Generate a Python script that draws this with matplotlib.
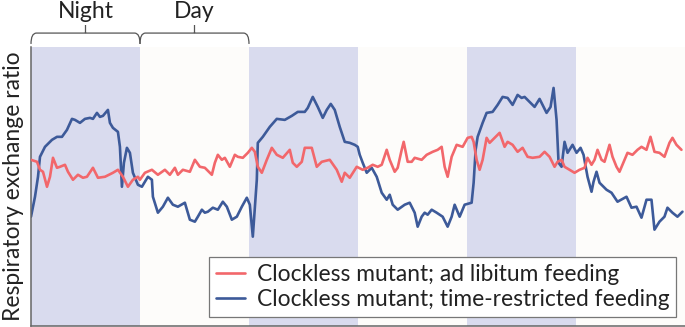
"""Clockless mutant RER: ad libitum vs time-restricted feeding over light/dark cycles."""
import matplotlib
matplotlib.use("Agg")
import matplotlib.pyplot as plt
from matplotlib.path import Path
from matplotlib.patches import PathPatch
from matplotlib.transforms import blended_transform_factory

plt.rcParams["font.family"] = ["Lato", "DejaVu Sans"]

# time in hours, respiratory exchange ratio (arbitrary scale)
trf_hours = [0.00, 0.44, 0.77, 0.99, 1.54, 2.31, 2.86, 3.41, 3.96, 4.51, 4.84, 5.39,
             5.94, 6.49, 6.82, 7.26, 7.59, 7.92, 8.47, 8.69, 9.02, 9.57, 9.79, 10.01,
             10.23, 10.56, 10.89, 11.22, 11.77, 12.21, 12.87, 13.31, 13.42, 13.97, 14.52,
             15.07, 15.62, 16.17, 16.94, 17.49, 18.04, 18.37, 18.81, 19.14, 19.47, 20.02,
             20.57, 21.12, 21.56, 22.11, 22.66, 23.21, 23.76, 24.09, 24.42, 24.86, 24.97,
             25.52, 26.29, 27.06, 27.94, 28.71, 29.37, 30.14, 30.47, 31.02, 31.57, 32.12,
             32.56, 33.00, 33.44, 33.99, 34.54, 35.09, 35.64, 35.97, 36.19, 36.52, 36.96,
             37.51, 38.06, 38.61, 39.16, 39.49, 39.82, 40.37, 41.14, 41.69, 42.24, 42.57,
             43.01, 43.34, 43.67, 44.11, 44.66, 45.32, 45.87, 46.31, 46.64, 47.19, 47.74,
             48.51, 48.73, 48.95, 49.17, 49.72, 50.16, 50.82, 51.37, 51.92, 52.47, 53.02,
             53.57, 54.01, 54.34, 54.89, 55.44, 55.99, 56.76, 57.20, 57.53, 57.86, 58.08,
             58.41, 58.74, 59.07, 59.62, 60.06, 60.50, 60.83, 61.27, 61.71, 61.93, 62.26,
             62.59, 63.36, 63.91, 64.57, 65.56, 66.11, 66.66, 67.21, 67.76, 68.31, 68.64,
             69.19, 69.74, 70.07, 70.62, 71.17, 71.72]
trf_rer = [0.809, 0.829, 0.849, 0.869, 0.879, 0.886, 0.889, 0.889, 0.896, 0.907, 0.906, 0.903,
           0.907, 0.908, 0.907, 0.913, 0.909, 0.910, 0.916, 0.903, 0.898, 0.894, 0.879, 0.839,
           0.863, 0.878, 0.873, 0.853, 0.841, 0.839, 0.849, 0.846, 0.829, 0.813, 0.819,
           0.828, 0.821, 0.819, 0.823, 0.806, 0.804, 0.809, 0.816, 0.813, 0.814, 0.818,
           0.816, 0.824, 0.819, 0.806, 0.809, 0.819, 0.828, 0.821, 0.789, 0.846, 0.883,
           0.889, 0.899, 0.907, 0.906, 0.910, 0.914, 0.914, 0.918, 0.929, 0.919, 0.908,
           0.916, 0.922, 0.916, 0.899, 0.884, 0.883, 0.881, 0.879, 0.871, 0.863, 0.853,
           0.858, 0.849, 0.833, 0.826, 0.831, 0.821, 0.816, 0.821, 0.823, 0.813, 0.799,
           0.809, 0.813, 0.811, 0.816, 0.813, 0.809, 0.799, 0.809, 0.821, 0.809, 0.821,
           0.823, 0.843, 0.876, 0.889, 0.903, 0.913, 0.914, 0.921, 0.929, 0.928, 0.921,
           0.931, 0.928, 0.929, 0.924, 0.919, 0.927, 0.913, 0.919, 0.938, 0.906, 0.863,
           0.859, 0.884, 0.873, 0.881, 0.873, 0.878, 0.871, 0.849, 0.834, 0.844, 0.854,
           0.843, 0.836, 0.833, 0.824, 0.829, 0.818, 0.819, 0.808, 0.826, 0.826, 0.796,
           0.804, 0.809, 0.818, 0.813, 0.809, 0.814]

al_hours = [0.00, 0.66, 0.99, 1.32, 1.76, 2.09, 2.42, 2.86, 3.19, 3.74, 4.07, 4.62, 5.17,
            5.72, 6.16, 6.82, 7.37, 8.14, 9.02, 9.57, 10.12, 10.67, 11.22, 11.77, 11.99,
            12.54, 13.31, 13.97, 14.74, 15.29, 15.84, 16.17, 16.72, 17.49, 18.04, 18.59,
            19.14, 19.91, 20.24, 20.57, 21.01, 21.34, 21.89, 22.44, 22.77, 23.32, 23.87,
            24.31, 24.64, 24.97, 25.41, 25.96, 26.51, 27.06, 27.72, 28.49, 28.82, 29.26,
            29.81, 30.14, 30.91, 31.46, 32.01, 32.89, 33.66, 34.21, 34.54, 35.09, 35.86,
            36.52, 37.07, 37.62, 38.17, 38.61, 39.16, 39.49, 40.04, 40.37, 40.81, 41.03,
            41.47, 41.91, 42.24, 43.01, 43.56, 44.22, 44.77, 45.21, 45.54, 45.87, 46.31,
            46.86, 47.52, 48.07, 48.51, 48.73, 49.06, 49.39, 49.72, 50.16, 50.49, 51.04,
            51.59, 52.14, 52.47, 53.02, 53.57, 54.12, 54.67, 55.22, 55.99, 56.54, 57.09,
            57.64, 57.97, 58.41, 58.74, 59.29, 59.84, 60.39, 60.94, 61.27, 61.71, 62.04,
            62.37, 62.81, 63.14, 63.69, 64.02, 64.46, 64.79, 65.34, 65.67, 66.22, 66.77,
            67.21, 67.76, 68.20, 68.64, 69.19, 69.74, 70.29, 70.62, 71.06, 71.61]
al_rer = [0.866, 0.864, 0.856, 0.854, 0.839, 0.849, 0.868, 0.858, 0.859, 0.861, 0.854, 0.846, 0.851,
          0.848, 0.849, 0.858, 0.848, 0.849, 0.853, 0.856, 0.849, 0.839, 0.846, 0.849, 0.846,
          0.853, 0.856, 0.851, 0.856, 0.851, 0.858, 0.851, 0.856, 0.854, 0.866, 0.859,
          0.858, 0.851, 0.863, 0.871, 0.866, 0.868, 0.859, 0.871, 0.869, 0.868, 0.873,
          0.878, 0.874, 0.859, 0.853, 0.866, 0.878, 0.871, 0.868, 0.876, 0.863, 0.859,
          0.864, 0.878, 0.878, 0.859, 0.864, 0.866, 0.856, 0.844, 0.853, 0.848, 0.859,
          0.856, 0.858, 0.861, 0.859, 0.861, 0.876, 0.866, 0.854, 0.858, 0.876, 0.884,
          0.864, 0.864, 0.868, 0.866, 0.871, 0.874, 0.876, 0.879, 0.859, 0.849, 0.869,
          0.881, 0.879, 0.888, 0.889, 0.884, 0.866, 0.856, 0.866, 0.888, 0.883, 0.888,
          0.893, 0.879, 0.884, 0.881, 0.874, 0.878, 0.869, 0.868, 0.869, 0.874, 0.869,
          0.859, 0.864, 0.866, 0.859, 0.856, 0.853, 0.856, 0.858, 0.868, 0.861, 0.866,
          0.876, 0.866, 0.864, 0.881, 0.869, 0.859, 0.854, 0.866, 0.873, 0.871, 0.876,
          0.879, 0.876, 0.889, 0.874, 0.873, 0.869, 0.883, 0.888, 0.881, 0.876]

night_starts = [0, 24, 48]
day_starts = [12, 36, 60]
phase_labels = ["Night", "Day"]
series_labels = ["Clockless mutant; ad libitum feeding",
                 "Clockless mutant; time-restricted feeding"]

RED = "#f2676b"
BLUE = "#3d5a99"

fig = plt.figure(figsize=(6.85, 3.27), dpi=100)
ax = fig.add_axes([31 / 685, 1.5 / 327, 1 - 31 / 685, 278.5 / 327])

for s in night_starts:
    ax.axvspan(s, s + 12, color="#d9dbee", lw=0, zorder=0)
for s in day_starts:
    ax.axvspan(s, s + 12, color="#fdfcfa", lw=0, zorder=0)

ax.plot(al_hours, al_rer, color=RED, lw=1.9, solid_joinstyle="round",
        solid_capstyle="round", label=series_labels[0], zorder=3)
ax.plot(trf_hours, trf_rer, color=BLUE, lw=1.9, solid_joinstyle="round",
        solid_capstyle="round", label=series_labels[1], zorder=2)

ax.set_xlim(0, 72)
ax.set_ylim(0.70, 0.979)
ax.set_xticks([])
ax.set_yticks([])
for side in ("top", "right"):
    ax.spines[side].set_visible(False)
for side in ("left", "bottom"):
    ax.spines[side].set_color("#666666")
    ax.spines[side].set_linewidth(1.1)
ax.set_ylabel("Respiratory exchange ratio", fontsize=16.5, color="#222222")
ax.yaxis.set_label_coords(-7 / 654, 0.5)

# brackets for the first night and day
trans = blended_transform_factory(ax.transData, ax.transAxes)
y_end, y_line, y_tick = 1.011, 1.050, 1.079
r = 0.6
for (x0, x1), lab in zip([(0, 12), (12, 24)], phase_labels):
    xm = (x0 + x1) / 2
    verts = [(x0, y_end), (x0, y_line), (x0 + r, y_line), (x1 - r, y_line),
             (x1, y_line), (x1, y_end), (xm, y_line), (xm, y_tick)]
    codes = [Path.MOVETO, Path.CURVE3, Path.CURVE3, Path.LINETO,
             Path.CURVE3, Path.CURVE3, Path.MOVETO, Path.LINETO]
    ax.add_patch(PathPatch(Path(verts, codes), transform=trans, fill=False,
                           edgecolor="#555555", lw=0.9, clip_on=False))
    ax.text(xm, 1.128, lab, transform=trans, ha="center", va="center",
            fontsize=16.5, color="#222222")

leg = ax.legend(loc="lower right", bbox_to_anchor=(676 / 685, 10 / 327),
                bbox_transform=fig.transFigure, borderaxespad=0,
                fontsize=16.4, frameon=True, fancybox=False, framealpha=1,
                edgecolor="#777777", handlelength=1.3, handletextpad=0.5,
                labelspacing=0.2, borderpad=0.3)
leg.get_frame().set_linewidth(0.9)
for t in leg.get_texts():
    t.set_color("#222222")

fig.savefig("out.png", dpi=100, facecolor="white")
